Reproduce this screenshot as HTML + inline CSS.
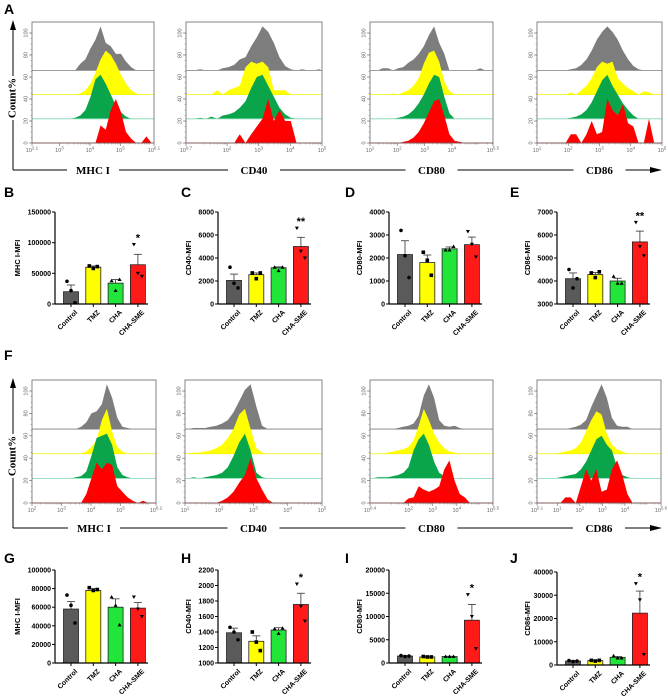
<!DOCTYPE html>
<html><head><meta charset="utf-8"><style>
html,body{margin:0;padding:0;background:#fff;}
svg{display:block;font-family:"Liberation Sans",Arial,sans-serif;}
</style></head><body>
<svg id="fig" width="668" height="696" viewBox="0 0 668 696" xmlns="http://www.w3.org/2000/svg"></svg>
<script>
// ===== Bar chart data =====
const categories = ["Control","TMZ","CHA","CHA-SME"];
const barColors = ["#5a5a5a","#ffff00","#22e53a","#ff1a1a"];
const meanB = [20000,60000,34000,64000];
const errB = [11000,2000,6000,17000];
const ptsB = [[37000,22000,2000],[62000,58000,61000],[38000,22000,40000],[97000,50000,45000]];
const ticksB = [0,50000,100000,150000];
const meanC = [2050,2550,3150,5000];
const errC = [550,150,80,800];
const ptsC = [[3200,1800,1400],[2700,2200,2700],[3200,2900,3200],[6600,4600,4000]];
const ticksC = [0,2000,4000,6000,8000];
const meanD = [2150,1800,2400,2580];
const errD = [600,330,80,330];
const ptsD = [[3200,2100,1150],[2250,1900,1250],[2350,2350,2500],[3150,2600,2050]];
const ticksD = [0,1000,2000,3000,4000];
const meanE = [4100,4280,4000,5700];
const errE = [250,90,120,470];
const ptsE = [[4500,3700,4100],[4350,4150,4400],[4200,3900,3900],[6550,5500,5100]];
const ticksE = [3000,4000,5000,6000,7000];
const meanG = [58000,78000,60000,59000];
const errG = [8000,2000,9000,6000];
const ptsG = [[73000,62000,43000],[81000,78000,79000],[71000,62000,41000],[71000,58000,50000]];
const ticksG = [0,20000,40000,60000,80000,100000];
const meanH = [1390,1280,1425,1755];
const errH = [60,70,30,145];
const ptsH = [[1460,1400,1300],[1400,1270,1160],[1440,1380,1450],[2020,1730,1540]];
const ticksH = [1000,1200,1400,1600,1800,2000,2200];
const meanI = [1500,1300,1400,9200];
const errI = [100,50,50,3400];
const ptsI = [[1600,1400,1500],[1400,1300,1300],[1400,1400,1400],[14700,10000,3100]];
const ticksI = [0,5000,10000,15000,20000];
const meanJ = [1700,1900,3300,22300];
const errJ = [200,200,300,9500];
const ptsJ = [[1900,1500,1700],[2000,1700,2000],[4000,3000,3000],[35000,28000,4500]];
const ticksJ = [0,10000,20000,30000,40000];
const starsB = ["","","","*"], starsC = ["","","","**"], starsD = ["","","",""], starsE = ["","","","**"];
const starsG = ["","","",""], starsH = ["","","","*"], starsI = ["","","","*"], starsJ = ["","","","*"];

// ===== Histogram data (24 bins across each x range, heights in count% units) =====
const histSeries = ["grey","yellow","green","red"];
const hA1g=[0,0,0,0,0,0,0,0,0,6,10,20,28,40,25,22,15,15,8,3,0,0,0,0];
const hA1y=[0,0,0,0,0,0,0,0,0,1,4,10,20,32,40,36,28,18,10,4,1,0,0,0];
const hA1n=[0,0,0,0,0,0,0,0,1,3,8,20,36,40,32,22,12,6,2,0,0,0,0,0];
const hA1r=[0,0,0,0,0,0,0,0,0,0,0,0,0,16,12,30,40,28,10,4,0,0,6,0];
const hA2g=[0,0,1,0,0,0,2,3,5,10,12,22,30,40,35,25,12,4,1,0,1,0,0,1];
const hA2y=[0,0,0,0,0,4,0,4,6,8,25,30,28,30,25,4,4,4,0,0,0,0,0,0];
const hA2n=[0,0,1,0,2,0,3,4,6,10,16,28,38,40,30,20,10,4,1,0,0,0,0,0];
const hA2r=[0,0,0,0,0,0,0,0,0,8,0,8,15,22,40,20,30,20,20,0,0,0,0,0];
const hA3g=[0,0,2,2,0,2,3,7,10,15,22,32,40,25,15,0,0,0,0,0,0,2,0,0];
const hA3y=[0,0,0,0,1,0,2,4,8,15,28,38,40,30,12,3,0,0,0,0,0,0,0,0];
const hA3n=[0,0,0,0,0,1,2,4,8,14,22,32,40,38,20,5,0,0,0,0,0,0,0,0];
const hA3r=[0,0,0,0,0,0,1,2,5,10,18,28,38,40,25,8,2,1,0,0,0,0,0,0];
const hA4g=[0,0,0,0,0,0,1,2,5,10,18,28,35,40,35,28,18,10,4,1,0,0,0,0];
const hA4y=[0,0,0,0,0,0,2,0,4,8,15,25,30,28,30,15,10,6,3,0,3,2,0,0];
const hA4n=[0,0,0,0,0,0,1,2,4,8,15,25,35,40,30,22,14,8,3,0,0,0,0,0];
const hA4r=[0,0,0,0,0,0,8,8,0,8,20,8,10,40,30,25,35,18,15,0,0,22,0,0];
const hF1g=[0,0,0,0,0,0,0,0,0,2,6,14,16,22,40,28,10,2,1,0,0,0,0,0];
const hF1y=[0,0,0,0,0,0,0,0,0,0,2,6,12,30,40,20,6,2,0,0,0,0,0,0];
const hF1n=[0,0,0,0,0,0,0,0,1,2,6,20,36,38,40,30,10,3,1,0,0,0,0,0];
const hF1r=[0,0,0,0,0,0,0,0,0,0,8,22,36,30,36,34,15,10,5,2,0,2,0,0];
const hF2g=[0,1,1,1,2,3,5,8,15,25,35,40,20,3,0,0,0,0,0,0,0,0,0,0];
const hF2y=[0,1,1,2,3,5,8,14,22,35,40,22,5,1,0,0,0,0,0,0,0,0,0,0];
const hF2n=[0,1,0,1,2,3,5,10,20,32,40,25,5,1,0,0,0,0,0,0,0,0,0,0];
const hF2r=[0,0,0,0,0,0,2,5,10,18,25,40,22,12,3,0,0,0,0,0,0,0,0,0];
const hF3g=[0,0,0,0,0,1,2,3,5,12,30,40,28,8,3,2,3,1,0,0,0,0,0,0];
const hF3y=[0,0,0,1,2,3,4,6,12,25,40,30,18,10,5,2,1,0,0,0,0,0,0,0];
const hF3n=[0,1,1,1,2,3,5,10,25,35,40,30,15,5,2,1,0,0,0,0,0,0,0,0];
const hF3r=[0,0,0,0,0,0,0,4,5,15,12,10,12,15,30,38,20,8,5,0,0,0,0,0];
const hF4g=[0,0,0,0,0,0,1,2,4,8,20,30,40,28,10,3,2,2,0,0,0,0,0,0];
const hF4y=[0,0,0,0,1,2,3,5,10,20,30,38,35,18,8,4,2,0,0,0,0,0,0,0];
const hF4n=[0,0,0,0,1,2,3,4,8,15,25,35,38,30,25,10,3,1,0,0,0,0,0,0];
const hF4r=[0,0,0,0,0,5,5,0,15,30,20,30,10,12,30,38,25,8,0,0,0,0,0,0];
const expA1=["2.1","3","4","5","6.1"], expA2=["0.7","2","3","4","5"], expA3=["1","2","3","4","5.5"], expA4=["1","2","3","4","5"];
const expF1=["2","3","4","5","6.2"], expF2=["1","2","3","4","5"], expF3=["0.4","2","3","4","5.5"], expF4=["0.1","1","2","3","4","5.6"];
const markerLabels = ["MHC I","CD40","CD80","CD86"];

const NS="http://www.w3.org/2000/svg";
const svg=document.getElementById('fig');
function mk(tag,attrs,parent,text){const e=document.createElementNS(NS,tag);for(const k in attrs)e.setAttribute(k,attrs[k]);if(text!==undefined)e.textContent=text;(parent||svg).appendChild(e);return e;}

// Panel letters
[["A",4,14],["B",4,197],["C",181,197],["D",345,197],["E",510,197],["F",4,360],["G",4,563],["H",181,563],["I",345,563],["J",510,563]].forEach(p=>{
  const t=mk('text',{x:p[1],y:p[2],'font-size':14,'font-weight':'bold',fill:'#000'},svg,p[0]);
  
  
});

// ===== Histograms =====
const histColors={grey:"#7d7d7d",yellow:"#ffff00",green:"#0aa54a",red:"#ff0000"};
const lineColors={grey:"#7d7d7d",yellow:"#f2f200",green:"#7fd6b0",red:"#ff0000"};
function hist(name,x0,x1,yTop,yBot,exps,series){
  const g=mk('g',{});
  
  
  const w=x1-x0, unit=(yBot-yTop-11)/100; // 0..100 + headroom
  const lo=parseFloat(exps[0]), hi=parseFloat(exps[exps.length-1]);
  const bases=[66,44,22,0];
  series.forEach((arr,si)=>{
    const key=histSeries[si], base=yBot-bases[si]*unit;
    let d=`M${x0},${base}`;
    const n=arr.length;
    arr.forEach((v,i)=>{const xa=x0+(i+0.5)/n*w;d+=` L${xa.toFixed(1)},${(base-v*unit).toFixed(1)}`;});
    d+=` L${x1},${base} Z`;
    const p=mk('path',{d,fill:histColors[key],stroke:'none'},g);
    
    
    mk('line',{x1:x0,x2:x1,y1:base,y2:base,stroke:lineColors[key],'stroke-width':0.8},g);
  });
  mk('rect',{x:x0,y:yTop,width:w,height:yBot-yTop,fill:'none',stroke:'#666','stroke-width':0.8},g);
  // y ticks
  for(let v=0;v<=100;v+=20){
    const y=yBot-v*unit;
    mk('line',{x1:x0-3,x2:x0,y1:y,y2:y,stroke:'#666','stroke-width':0.6},g);
    const t=mk('text',{x:x0-6,y:y,'font-size':5.5,fill:'#666','text-anchor':'middle',transform:`rotate(-90 ${x0-6} ${y})`,'dominant-baseline':'middle'},g,String(v));
  }
  for(let v=0;v<=100;v+=5){const y=yBot-v*unit;mk('line',{x1:x0-1.5,x2:x0,y1:y,y2:y,stroke:'#666','stroke-width':0.4},g);}
  // x ticks
  exps.forEach(e=>{
    const ev=parseFloat(e), x=x0+(ev-lo)/(hi-lo)*w;
    mk('line',{x1:x,x2:x,y1:yBot,y2:yBot+3,stroke:'#666','stroke-width':0.6},g);
    const t=mk('text',{x:x,y:yBot+9,'font-size':5.5,fill:'#666','text-anchor':'middle'},g);
    t.textContent='10';
    const s=mk('tspan',{dy:-2.5,'font-size':4.5},t,e);
  });
  for(let e=Math.ceil(lo);e<hi;e++){for(let k=2;k<10;k++){const ev=e+Math.log10(k);if(ev>hi)break;const x=x0+(ev-lo)/(hi-lo)*w;mk('line',{x1:x,x2:x,y1:yBot,y2:yBot+1.5,stroke:'#666','stroke-width':0.4},g);}}
}
const topX=[[32,154],[186,322],[370,493],[537,662]];
const botX=[[32,156],[185,322],[370,493],[537,661]];
hist('histogram-mhc1-a',32,154,22,143,expA1,[hA1g,hA1y,hA1n,hA1r]);
hist('histogram-cd40-a',186,322,22,143,expA2,[hA2g,hA2y,hA2n,hA2r]);
hist('histogram-cd80-a',370,493,22,143,expA3,[hA3g,hA3y,hA3n,hA3r]);
hist('histogram-cd86-a',537,662,22,143,expA4,[hA4g,hA4y,hA4n,hA4r]);
hist('histogram-mhc1-f',32,156,380,503,expF1,[hF1g,hF1y,hF1n,hF1r]);
hist('histogram-cd40-f',185,322,380,503,expF2,[hF2g,hF2y,hF2n,hF2r]);
hist('histogram-cd80-f',370,493,380,503,expF3,[hF3g,hF3y,hF3n,hF3r]);
hist('histogram-cd86-f',537,661,380,503,expF4,[hF4g,hF4y,hF4n,hF4r]);

// Big axis arrows
function bigAxes(yAx,yTop,xs,tag){
  const g=mk('g',{});
  
  
  mk('line',{x1:13,x2:13,y1:yAx,y2:yTop+6,stroke:'#000','stroke-width':1},g);
  mk('path',{d:`M13,${yTop-2} L10,${yTop+8} L16,${yTop+8} Z`,fill:'#000'},g);
  mk('line',{x1:13,x2:652,y1:yAx,y2:yAx,stroke:'#000','stroke-width':1},g);
  mk('path',{d:`M662,${yAx} L650,${yAx-3} L650,${yAx+3} Z`,fill:'#000'},g);
  const cy=(yAx+yTop)/2+2;
  mk('rect',{x:6,y:cy-22,width:14,height:44,fill:'#fff'},g);
  const ct=mk('text',{x:13,y:cy,'font-size':11,'font-weight':'bold','font-family':'"Liberation Serif",serif','text-anchor':'middle','dominant-baseline':'middle',transform:`rotate(-90 13 ${cy})`},g,'Count%');
  
  
  xs.forEach((r,i)=>{
    const cx=(r[0]+r[1])/2;
    mk('rect',{x:cx-26,y:yAx-7,width:52,height:14,fill:'#fff'},g);
    const t=mk('text',{x:cx,y:yAx+4,'font-size':11,'font-weight':'bold','font-family':'"Liberation Serif",serif','text-anchor':'middle'},g,markerLabels[i]);
    
    
  });
}
bigAxes(170,22,topX,'a');
bigAxes(528,380,botX,'f');

// ===== Bar charts =====
function bar(name,ax,yTop,yBot,ticks,title,means,errs,pts,stars){
  const g=mk('g',{});
  
  
  const mn=ticks[0], mx=ticks[ticks.length-1];
  const Y=v=>yBot-(v-mn)/(mx-mn)*(yBot-yTop);
  const X=i=>ax+16+22.3*i;
  means.forEach((m,i)=>{
    const cx=X(i), yt=Y(m);
    const r=mk('rect',{x:cx-7.5,y:yt,width:15,height:yBot-yt,fill:barColors[i],stroke:'#222','stroke-width':0.8},g);
    
    
    const ye=Y(m+errs[i]);
    mk('line',{x1:cx,x2:cx,y1:yt,y2:ye,stroke:'#333','stroke-width':0.8},g);
    mk('line',{x1:cx-4,x2:cx+4,y1:ye,y2:ye,stroke:'#333','stroke-width':0.8},g);
    pts[i].forEach((v,j)=>{
      const px=cx+(j-1)*4, py=Y(v);
      let e;
      if(i===0)e=mk('circle',{cx:px,cy:py,r:1.8,fill:'#000'},g);
      else if(i===1)e=mk('rect',{x:px-1.8,y:py-1.8,width:3.6,height:3.6,fill:'#000'},g);
      else if(i===2)e=mk('path',{d:`M${px},${py-2} L${px-2},${py+1.5} L${px+2},${py+1.5} Z`,fill:'#000'},g);
      else e=mk('path',{d:`M${px},${py+2} L${px-2},${py-1.5} L${px+2},${py-1.5} Z`,fill:'#000'},g);
      
      
    });
    if(stars[i]){
      const top=Math.min(Y(Math.max(...pts[i])),ye);
      const s=mk('text',{x:cx,y:top-3,'font-size':11,'font-weight':'bold','text-anchor':'middle',fill:'#000'},g,stars[i]);
      
      
    }
    const lx=cx+4, ly=yBot+6;
    const t=mk('text',{x:lx,y:ly,'font-size':7,'font-weight':'bold','text-anchor':'end','dominant-baseline':'hanging',transform:`rotate(-45 ${lx} ${ly})`},g,categories[i]);
    
    
  });
  mk('line',{x1:ax,x2:ax,y1:yTop,y2:yBot,stroke:'#000','stroke-width':1.2},g);
  mk('line',{x1:ax,x2:ax+93,y1:yBot,y2:yBot,stroke:'#000','stroke-width':1.2},g);
  means.forEach((m,i)=>{mk('line',{x1:X(i),x2:X(i),y1:yBot,y2:yBot+3,stroke:'#000','stroke-width':1},g);});
  ticks.forEach(v=>{
    const y=Y(v);
    mk('line',{x1:ax-3,x2:ax,y1:y,y2:y,stroke:'#000','stroke-width':1},g);
    const t=mk('text',{x:ax-4,y:y+2.5,'font-size':7,'font-weight':'bold','text-anchor':'end'},g,String(v));
    
    
  });
  const tx=ax-35+(String(mx).length>=6?0:8), ty=(yTop+yBot)/2;
  const tt=mk('text',{x:tx,y:ty,'font-size':7.5,'font-weight':'bold','text-anchor':'middle',transform:`rotate(-90 ${tx} ${ty})`},g,title);
  
  
}
bar('bar-chart-mhc1-b',55,212,304,ticksB,'MHC I-MFI',meanB,errB,ptsB,starsB);
bar('bar-chart-cd40-c',218,212,304,ticksC,'CD40-MFI',meanC,errC,ptsC,starsC);
bar('bar-chart-cd80-d',389,212,304,ticksD,'CD80-MFI',meanD,errD,ptsD,starsD);
bar('bar-chart-cd86-e',557,212,304,ticksE,'CD86-MFI',meanE,errE,ptsE,starsE);
bar('bar-chart-mhc1-g',55,570,663,ticksG,'MHC I-MFI',meanG,errG,ptsG,starsG);
bar('bar-chart-cd40-h',218,570,663,ticksH,'CD40-MFI',meanH,errH,ptsH,starsH);
bar('bar-chart-cd80-i',389,570,663,ticksI,'CD80-MFI',meanI,errI,ptsI,starsI);
bar('bar-chart-cd86-j',557,572,665,ticksJ,'CD86-MFI',meanJ,errJ,ptsJ,starsJ);
</script>
</body></html>
